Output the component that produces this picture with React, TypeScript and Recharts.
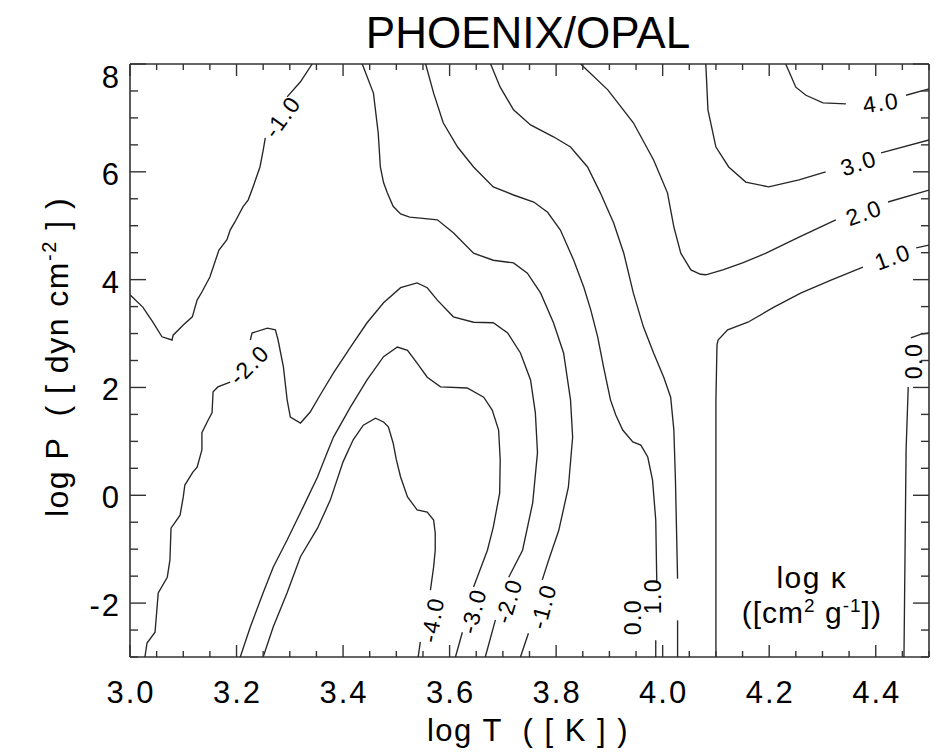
import React from 'react';
import { ScatterChart, Scatter, XAxis, YAxis } from 'recharts';

type Pair = [number, number];
const pts = (a: Pair[]) => a.map(([x, y]) => ({ x, y }));

// ---- contour lines: [log T, log P] ----
const cm4a: Pair[] = [[3.250,-3.00],[3.269,-2.44],[3.295,-1.81],[3.320,-1.14],[3.352,-0.61],[3.376,-0.09],[3.400,0.62],[3.419,1.03],[3.438,1.30],[3.461,1.43],[3.476,1.36],[3.485,1.27],[3.494,0.97],[3.500,0.66],[3.508,0.34],[3.521,-0.03],[3.539,-0.27],[3.558,-0.31],[3.570,-0.46],[3.573,-0.70],[3.573,-1.02],[3.570,-1.33],[3.564,-1.76]];
const cm4b: Pair[] = [[3.545,-2.72],[3.541,-3.00]];

const cm3a: Pair[] = [[3.207,-3.00],[3.226,-2.44],[3.250,-1.81],[3.269,-1.33],[3.295,-0.83],[3.325,-0.22],[3.352,0.34],[3.370,0.79],[3.382,1.08],[3.414,1.64],[3.445,2.14],[3.476,2.57],[3.502,2.75],[3.521,2.69],[3.539,2.45],[3.558,2.19],[3.583,2.01],[3.633,1.99],[3.664,1.82],[3.680,1.58],[3.692,1.21],[3.695,0.66],[3.694,0.04],[3.682,-0.59],[3.671,-1.02],[3.645,-1.70]];
const cm3b: Pair[] = [[3.624,-2.54],[3.611,-3.00]];

const cm2a: Pair[] = [[3.028,-3.00],[3.032,-2.74],[3.047,-2.54],[3.053,-1.81],[3.070,-1.52],[3.075,-1.20],[3.077,-0.61],[3.094,-0.37],[3.100,-0.03],[3.103,0.19],[3.118,0.43],[3.126,0.52],[3.135,0.84],[3.135,1.16],[3.147,1.40],[3.154,1.53],[3.156,1.92],[3.165,2.01],[3.188,2.10]];
const cm2b: Pair[] = [[3.226,2.88],[3.229,3.01],[3.258,3.10],[3.273,3.07],[3.278,2.88],[3.288,2.38],[3.295,1.77],[3.301,1.45],[3.320,1.34],[3.338,1.54],[3.357,1.86],[3.382,2.27],[3.414,2.75],[3.445,3.20],[3.476,3.57],[3.508,3.85],[3.539,3.94],[3.558,3.85],[3.577,3.62],[3.607,3.31],[3.645,3.21],[3.682,3.20],[3.709,3.01],[3.733,2.64],[3.752,2.14],[3.761,1.53],[3.765,0.79],[3.756,-0.14],[3.737,-1.02],[3.711,-1.52]];
const cm2c: Pair[] = [[3.686,-2.31],[3.667,-3.00]];

const cm1La: Pair[] = [[3.000,3.72],[3.024,3.49],[3.043,3.21],[3.060,2.94],[3.079,2.88],[3.081,2.97],[3.100,3.16],[3.117,3.31],[3.126,3.62],[3.135,3.77],[3.150,4.05],[3.167,4.55],[3.182,4.74],[3.188,4.92],[3.197,5.07],[3.212,5.35],[3.222,5.48],[3.231,5.72],[3.244,6.09],[3.250,6.40],[3.254,6.63]];
const cm1Lb: Pair[] = [[3.295,7.39],[3.320,7.67],[3.342,8.00]];

const cm1Ra: Pair[] = [[3.436,8.00],[3.457,7.46],[3.466,6.72],[3.470,6.09],[3.476,5.80],[3.483,5.61],[3.494,5.36],[3.508,5.22],[3.525,5.16],[3.545,5.14],[3.577,5.11],[3.607,4.87],[3.645,4.49],[3.682,4.36],[3.720,4.31],[3.746,4.12],[3.771,3.75],[3.795,3.20],[3.814,2.64],[3.827,1.77],[3.831,1.08],[3.823,0.15],[3.805,-0.65],[3.786,-1.20],[3.774,-1.57]];
const cm1Rb: Pair[] = [[3.748,-2.56],[3.733,-3.00]];

const c0La: Pair[] = [[3.555,8.00],[3.570,7.46],[3.588,6.91],[3.615,6.46],[3.645,6.09],[3.682,5.72],[3.720,5.57],[3.758,5.44],[3.784,5.25],[3.808,4.92],[3.833,4.36],[3.852,3.86],[3.865,3.44],[3.878,2.94],[3.889,2.38],[3.902,1.77],[3.912,1.49],[3.925,1.21],[3.944,0.99],[3.959,0.93],[3.972,0.71],[3.981,0.28],[3.987,-0.46],[3.989,-1.63]];
const c0Lb: Pair[] = [[3.987,-2.69],[3.987,-3.00]];

const c1La: Pair[] = [[3.677,8.00],[3.695,7.57],[3.720,7.15],[3.752,6.87],[3.795,6.65],[3.827,6.46],[3.859,6.09],[3.883,5.61],[3.908,5.05],[3.927,4.49],[3.945,3.75],[3.964,3.12],[3.983,2.64],[4.002,2.19],[4.015,1.82],[4.021,1.21],[4.024,0.28],[4.028,-1.55]];
const c1Lb: Pair[] = [[4.028,-2.32],[4.028,-3.00]];

const c1Ra: Pair[] = [[4.100,-3.00],[4.100,1.77],[4.102,2.79],[4.104,2.88],[4.122,3.07],[4.160,3.21],[4.209,3.49],[4.259,3.75],[4.316,3.99],[4.376,4.23]];
const c1Rb: Pair[] = [[4.476,4.59],[4.500,4.64]];

const c0Ra: Pair[] = [[4.500,3.01],[4.485,2.99],[4.466,2.92]];
const c0Rb: Pair[] = [[4.461,2.01],[4.457,0.84],[4.453,-3.00]];

const c2a: Pair[] = [[3.846,8.00],[3.897,7.52],[3.945,6.91],[3.983,6.22],[4.009,5.61],[4.021,4.98],[4.034,4.49],[4.053,4.18],[4.071,4.10],[4.081,4.09],[4.113,4.18],[4.150,4.31],[4.194,4.49],[4.256,4.79],[4.325,5.11]];
const c2b: Pair[] = [[4.423,5.44],[4.500,5.66]];

const c3a: Pair[] = [[4.081,8.00],[4.085,7.15],[4.100,6.46],[4.124,6.09],[4.156,5.81],[4.199,5.72],[4.256,5.85],[4.306,6.00]];
const c3b: Pair[] = [[4.410,6.35],[4.500,6.59]];

const c4a: Pair[] = [[4.231,8.00],[4.250,7.57],[4.269,7.42],[4.301,7.28],[4.344,7.26]];
const c4b: Pair[] = [[4.457,7.42],[4.500,7.54]];

const contourSegments: Pair[][] = [
  cm4a, cm4b, cm3a, cm3b, cm2a, cm2b, cm2c, cm1La, cm1Lb, cm1Ra, cm1Rb,
  c0La, c0Lb, c1La, c1Lb, c1Ra, c1Rb, c0Ra, c0Rb, c2a, c2b, c3a, c3b, c4a, c4b,
];

// contour labels: position (log T, log P), text, rotation in degrees
const contourLabels = [
  { x: 3.286, y: 7.02, text: '-1.0', angle: -54 },
  { x: 3.224, y: 2.42, text: '-2.0', angle: -45 },
  { x: 3.568, y: -2.31, text: '-4.0', angle: -80 },
  { x: 3.645, y: -2.15, text: '-3.0', angle: -76 },
  { x: 3.711, y: -1.96, text: '-2.0', angle: -73 },
  { x: 3.776, y: -2.06, text: '-1.0', angle: -75 },
  { x: 3.944, y: -2.26, text: '0.0', angle: -90 },
  { x: 3.981, y: -1.87, text: '1.0', angle: -90 },
  { x: 4.410, y: 7.28, text: '4.0', angle: -8 },
  { x: 4.368, y: 6.16, text: '3.0', angle: -18 },
  { x: 4.378, y: 5.24, text: '2.0', angle: -20 },
  { x: 4.432, y: 4.42, text: '1.0', angle: -20 },
  { x: 4.472, y: 2.49, text: '0.0', angle: -90 },
];

const annotation = [{ x: 4.28, y: -1.72 }];

// axes
const xDomain: [number, number] = [3.0, 4.5];
const yDomain: [number, number] = [-3, 8];
const xMajorTicks = [3.0, 3.2, 3.4, 3.6, 3.8, 4.0, 4.2, 4.4];
const yMajorTicks = [-2, 0, 2, 4, 6, 8];
const xTicks = Array.from({ length: 31 }, (_, i) => Math.round((3.0 + i * 0.05) * 100) / 100);
const yTicks = Array.from({ length: 23 }, (_, i) => -3 + i * 0.5);

const FONT = '"Liberation Sans", Arial, Helvetica, sans-serif';
const AXIS = '#333';
const LINE = '#262626';

const isMajorX = (v: number) => xMajorTicks.some((t) => Math.abs(t - v) < 1e-6);
const isMajorY = (v: number) => yMajorTicks.some((t) => Math.abs(t - v) < 1e-6);

const BottomTick = (props: any) => {
  const { x, y, payload } = props;
  const v = payload.value;
  const major = isMajorX(v);
  return (
    <g>
      <line x1={x} y1={y} x2={x} y2={y - (major ? 12 : 6)} stroke={AXIS} strokeWidth={1.4} />
      {major && (
        <text x={x + 1} y={y + 46} textAnchor="middle" fontSize={31} fontFamily={FONT} fill="#000" letterSpacing={2}>
          {v.toFixed(1)}
        </text>
      )}
    </g>
  );
};

const TopTick = (props: any) => {
  const { x, y, payload } = props;
  const major = isMajorX(payload.value);
  return <line x1={x} y1={y} x2={x} y2={y + (major ? 12 : 6)} stroke={AXIS} strokeWidth={1.4} />;
};

const LeftTick = (props: any) => {
  const { x, y, payload } = props;
  const v = payload.value;
  const major = isMajorY(v);
  return (
    <g>
      <line x1={x} y1={y} x2={x + (major ? 16 : 8)} y2={y} stroke={AXIS} strokeWidth={1.4} />
      {major && (
        <text x={x - 9} y={y + (v === 8 ? 24 : 13)} textAnchor="end" fontSize={31} fontFamily={FONT} fill="#000" letterSpacing={2}>
          {String(v)}
        </text>
      )}
    </g>
  );
};

const RightTick = (props: any) => {
  const { x, y, payload } = props;
  const major = isMajorY(payload.value);
  return <line x1={x} y1={y} x2={x - (major ? 16 : 8)} y2={y} stroke={AXIS} strokeWidth={1.4} />;
};

const NoDot = () => <g />;

const LabelShape = (props: any) => {
  const { cx, cy } = props;
  const p = props.payload || props;
  return (
    <text
      x={cx}
      y={cy}
      transform={`rotate(${p.angle} ${cx} ${cy})`}
      textAnchor="middle"
      dominantBaseline="central"
      fontSize={23}
      fontFamily={FONT}
      letterSpacing={1.5}
      fill="#000"
    >
      {p.text}
    </text>
  );
};

const AnnotationShape = (props: any) => {
  const { cx, cy } = props;
  return (
    <g fontFamily={FONT} fill="#000" fontSize={30}>
      <text x={cx} y={cy} textAnchor="middle" letterSpacing={1.5}>log κ</text>
      <text x={cx} y={cy + 35} textAnchor="middle" letterSpacing={1}>
        ([cm<tspan dy={-11} fontSize={19}>2</tspan><tspan dy={11}> g</tspan>
        <tspan dy={-11} fontSize={19}>-1</tspan><tspan dy={11}>])</tspan>
      </text>
    </g>
  );
};

export default function App() {
  return (
    <div style={{ position: 'absolute', left: 0, top: 0, width: 935, height: 752, background: '#fff' }}>
      <ScatterChart width={935} height={752} margin={{ top: 63, right: 5, bottom: 0, left: 0 }}>
        <XAxis
          xAxisId={0}
          type="number"
          dataKey="x"
          domain={xDomain}
          allowDataOverflow
          ticks={xTicks}
          interval={0}
          height={95}
          tickSize={0}
          tickMargin={0}
          tickLine={false}
          axisLine={{ stroke: AXIS, strokeWidth: 1.6 }}
          tick={<BottomTick />}
        />
        <XAxis
          xAxisId="top"
          orientation="top"
          type="number"
          dataKey="x"
          domain={xDomain}
          allowDataOverflow
          ticks={xTicks}
          interval={0}
          height={1}
          tickSize={0}
          tickMargin={0}
          tickLine={false}
          axisLine={{ stroke: AXIS, strokeWidth: 1.6 }}
          tick={<TopTick />}
        />
        <YAxis
          yAxisId={0}
          type="number"
          dataKey="y"
          domain={yDomain}
          allowDataOverflow
          ticks={yTicks}
          interval={0}
          width={130}
          tickSize={0}
          tickMargin={0}
          tickLine={false}
          axisLine={{ stroke: AXIS, strokeWidth: 1.6 }}
          tick={<LeftTick />}
        />
        <YAxis
          yAxisId="right"
          orientation="right"
          type="number"
          dataKey="y"
          domain={yDomain}
          allowDataOverflow
          ticks={yTicks}
          interval={0}
          width={1}
          tickSize={0}
          tickMargin={0}
          tickLine={false}
          axisLine={{ stroke: AXIS, strokeWidth: 1.6 }}
          tick={<RightTick />}
        />
        <Scatter xAxisId="top" yAxisId="right" data={[{ x: 3.5, y: 0 }]} shape={NoDot} isAnimationActive={false} />
        {contourSegments.map((seg, i) => (
          <Scatter
            key={i}
            xAxisId={0}
            yAxisId={0}
            data={pts(seg)}
            line={{ stroke: LINE, strokeWidth: 1.35 }}
            lineJointType="linear"
            shape={NoDot}
            isAnimationActive={false}
          />
        ))}
        <Scatter xAxisId={0} yAxisId={0} data={contourLabels} shape={LabelShape} isAnimationActive={false} />
        <Scatter xAxisId={0} yAxisId={0} data={annotation} shape={AnnotationShape} isAnimationActive={false} />
      </ScatterChart>
      <svg
        width={935}
        height={752}
        style={{ position: 'absolute', left: 0, top: 0, pointerEvents: 'none' }}
        fontFamily={FONT}
      >
        <text x={528} y={48} textAnchor="middle" fontSize={44} fill="#000">PHOENIX/OPAL</text>
        <text x={528} y={741} textAnchor="middle" fontSize={31} fill="#000" style={{ whiteSpace: 'pre' }} letterSpacing={1.5}>
          {'log T  ( [ K ] )'}
        </text>
        <text
          x={68}
          y={357}
          textAnchor="middle"
          fontSize={32}
          fill="#000"
          transform="rotate(-90 68 357)"
          style={{ whiteSpace: 'pre' }}
          letterSpacing={1.5}
        >
          {'log P  ( [ dyn cm'}
          <tspan dy={-12} fontSize={20}>-2</tspan>
          <tspan dy={12}>{' ] )'}</tspan>
        </text>
      </svg>
    </div>
  );
}
